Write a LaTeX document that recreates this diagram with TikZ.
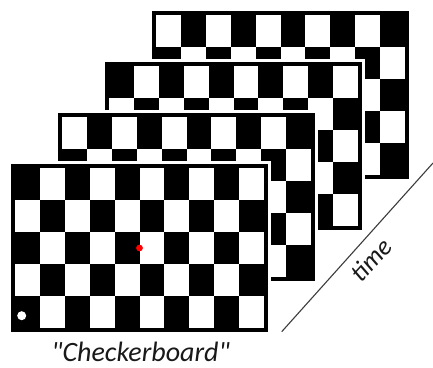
\documentclass[tikz,border=0pt]{standalone}
\usepackage{fontspec}
\setmainfont{Carlito}
\newcommand\straightquote{\XeTeXglyph\XeTeXcharglyph"22\relax}
\definecolor{txt}{RGB}{25,25,25}
\definecolor{axis}{RGB}{60,60,60}
\begin{document}
\begin{tikzpicture}[x=1pt,y=-1pt,
  labeltext/.style={font=\itshape\fontsize{28}{28}\selectfont, text=txt, inner sep=0pt, anchor=base},
  timetext/.style={font=\itshape\fontsize{26}{26}\selectfont, text=txt, inner sep=0pt, rotate=48},
  axisline/.style={draw=axis, line width=1.1pt}]
\useasboundingbox (0,0) rectangle (433,367);
\fill[white] (0,0) rectangle (433,367);
\foreach \k/\ph in {3/1,2/0,1/1,0/0} {
  \pgfmathsetmacro\bx{11+47*\k}
  \pgfmathsetmacro\by{164-51*\k}
  \fill[white] (\bx-3,\by-3) rectangle ++(263,174);
  \fill[black] (\bx,\by) rectangle ++(257,168);
  \foreach \i in {0,...,9} {
    \foreach \j in {0,...,4} {
      \pgfmathtruncatemacro\w{mod(\i+\j+\ph,2)}
      \ifnum\w=1
        \fill[white] (\bx+4+24.9*\i,\by+4+32*\j) rectangle ++(24.9,32);
      \fi
    }
  }
}
\fill[red] (139.5,248) circle (3.4);
\fill[white] (21.7,315.7) circle (4.5);
\coordinate (t0) at (281.7,331.7);
\coordinate (t1) at (433,163);
\draw[axisline] (t0) -- (t1);
\node[timetext] (time) at (371,259.5) {time};
\node[labeltext] (label) at (140.5,361) {\straightquote Checkerboard\straightquote};
\end{tikzpicture}
\end{document}
